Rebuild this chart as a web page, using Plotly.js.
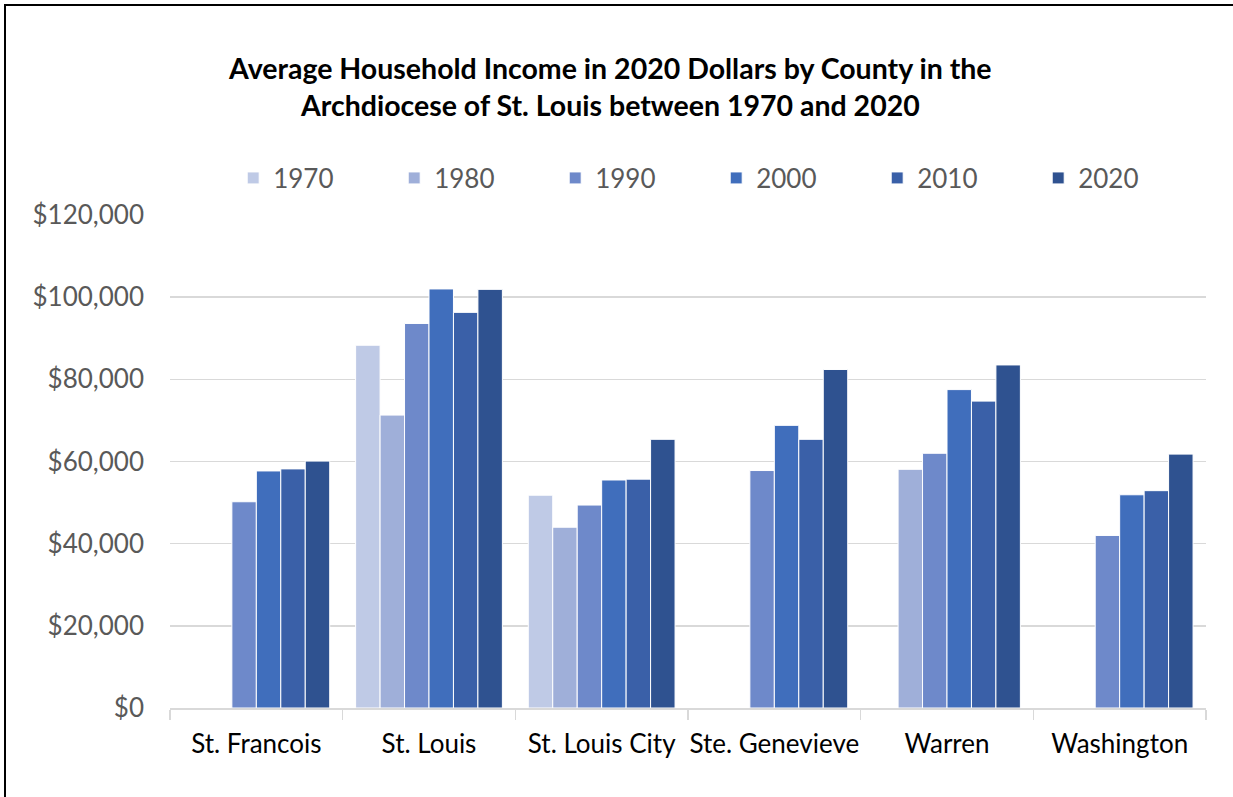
<!DOCTYPE html>
<html>
<head>
<meta charset="utf-8">
<script src="https://cdn.plot.ly/plotly-3.0.1.min.js"></script>
<style>
  html, body { margin: 0; padding: 0; background: #fff; }
  #wrap { position: relative; width: 1233px; height: 797px; overflow: hidden; }
  #chart { position: absolute; left: 0; top: 0; width: 1233px; height: 797px; }
  #frame { position: absolute; left: 4px; top: 4px; width: 1300px; height: 900px;
           border-top: 2px solid #000; border-left: 2px solid #000; pointer-events: none; }
</style>
</head>
<body>
<div id="wrap">
  <div id="chart"></div>
  <div id="frame"></div>
</div>
<script>
const counties = ["St. Francois", "St. Louis", "St. Louis City", "Ste. Genevieve", "Warren", "Washington"];
const years = ["1970", "1980", "1990", "2000", "2010", "2020"];
const income1970 = [null, 88300, 51800, null, null, null];
const income1980 = [null, 71300, 44000, null, 58100, null];
const income1990 = [50200, 93600, 49400, 57800, 62000, 42000];
const income2000 = [57700, 102000, 55500, 68800, 77500, 51900];
const income2010 = [58200, 96300, 55700, 65400, 74700, 52900];
const income2020 = [60100, 101900, 65400, 82400, 83500, 61800];
const yTickVals = [0, 20000, 40000, 60000, 80000, 100000, 120000];
const yTickText = ["$0", "$20,000", "$40,000", "$60,000", "$80,000", "$100,000", "$120,000"];

const seriesValues = [income1970, income1980, income1990, income2000, income2010, income2020];
const colors = ["#BFCAE6", "#9FAFD9", "#6E89CA", "#406EBC", "#3A60A8", "#2F5290"];

const FONT = "Lato, 'Open Sans', sans-serif";

const traces = years.map((yr, i) => ({
  type: "bar",
  name: yr,
  x: counties,
  y: seriesValues[i],
  marker: { color: colors[i], line: { color: "#ffffff", width: 1 } },
  hoverinfo: "x+y+name"
}));

const layout = {
  width: 1233,
  height: 797,
  paper_bgcolor: "#ffffff",
  plot_bgcolor: "#ffffff",
  margin: { l: 170, r: 27, t: 215, b: 89, pad: 0 },
  barmode: "group",
  bargap: 0.15,
  bargroupgap: 0,
  title: {
    text: "<b>Average Household Income in 2020 Dollars by County in the<br>Archdiocese of St. Louis between 1970 and 2020</b>",
    font: { family: FONT, size: 28.5, color: "#000000" },
    x: 0.495,
    xanchor: "center",
    y: 0.901,
    yanchor: "middle"
  },
  showlegend: true,
  legend: {
    orientation: "h",
    x: 0.061,
    xanchor: "left",
    y: 1.075,
    yanchor: "middle",
    font: { family: FONT, size: 26, color: "#595959" },
    entrywidth: 116,
    entrywidthmode: "pixels",
    traceorder: "normal",
    bgcolor: "rgba(0,0,0,0)"
  },
  xaxis: {
    type: "category",
    showgrid: false,
    showline: true,
    linecolor: "#D9D9D9",
    linewidth: 1.5,
    ticks: "outside",
    tickson: "boundaries",
    ticklen: 10,
    tickcolor: "#D9D9D9",
    tickwidth: 1.5,
    tickangle: 0,
    ticklabelstandoff: 12,
    tickfont: { family: FONT, size: 26, color: "#000000" },
    zeroline: false,
    fixedrange: true
  },
  yaxis: {
    range: [0, 120000],
    tickvals: yTickVals,
    ticktext: yTickText,
    showgrid: true,
    gridcolor: "#D9D9D9",
    gridwidth: 1.5,
    showline: false,
    zeroline: false,
    ticks: "",
    ticklabelstandoff: 25,
    tickfont: { family: FONT, size: 26, color: "#595959" },
    fixedrange: true
  }
};

Plotly.newPlot("chart", traces, layout, { displayModeBar: false, staticPlot: true });
</script>
</body>
</html>
